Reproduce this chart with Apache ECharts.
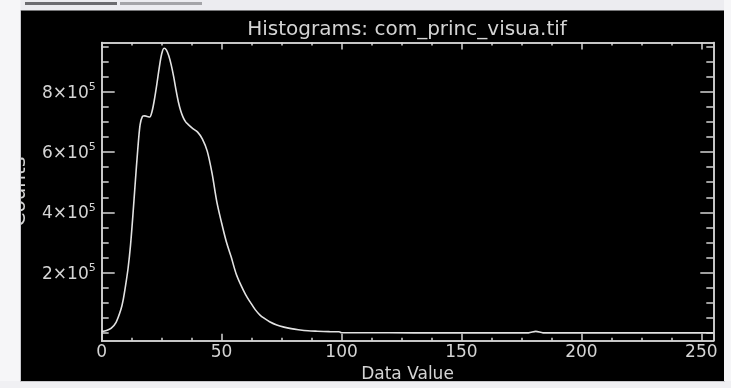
<!DOCTYPE html>
<html>
<head>
<meta charset="utf-8">
<script src="https://cdn.jsdelivr.net/npm/echarts@6/dist/echarts.min.js"></script>
<style>
  html, body { margin: 0; padding: 0; background: #f2f2f5; }
  #chart { width: 731px; height: 388px; }
</style>
</head>
<body>
<div id="chart"></div>
<script>
// histogram: data value (x) and count (y)
const dataValues = [0, 2, 4, 6, 8, 9, 10, 11, 12, 13, 14, 15, 16, 17, 18, 19, 20, 21, 22, 23, 24, 25, 26, 27, 28, 29, 30,
  31, 32, 33, 34, 35, 36, 38, 40, 42, 44, 46, 48, 50, 52, 54, 56, 58, 60, 62, 64, 66, 68, 70, 73, 76, 79, 82, 86, 90,
  95, 99, 100, 120, 140, 160, 178, 181, 184, 200, 230, 255]
const counts = [5000, 9000, 17000, 36000, 78000, 112000, 160000, 215000, 290000, 390000, 500000, 605000, 690000, 718000,
  720000, 718000, 716000, 735000, 775000, 825000, 880000, 925000, 944000, 938000, 918000, 888000, 850000,
  805000, 765000, 735000, 714000, 700000, 692000, 678000, 666000, 643000, 603000, 530000, 435000, 365000, 302000,
  252000, 198000, 160000, 128000, 102000, 78000, 60000, 48000, 38000, 27000, 20000, 15000, 11500, 8000, 6500,
  5000, 4500, 1500, 1200, 1000, 1000, 1000, 6000, 1000, 1000, 1000, 1000]

const xMajor = [0, 50, 100, 150, 200, 250]
const xMinor = [12.5, 25, 37.5, 62.5, 75, 87.5, 112.5, 125, 137.5, 162.5, 175, 187.5, 212.5, 225, 237.5]
const yMajor = [200000, 400000, 600000, 800000]
const yMinor = [0, 50000, 100000, 150000, 250000, 300000, 350000, 450000, 500000, 550000, 650000, 700000, 750000,
  850000, 900000, 950000]

const fg = '#d4d4d4'
const font = 'DejaVu Sans'

const xBase = {
  type: 'value', min: 0, max: 255, splitLine: { show: false },
  axisLine: { show: true, onZero: false, lineStyle: { color: fg, width: 1.5 } },
  axisLabel: { show: false }
}
const yBase = {
  type: 'value', min: -25000, max: 963000, splitLine: { show: false },
  axisLine: { show: true, onZero: false, lineStyle: { color: fg, width: 1.5 } },
  axisLabel: { show: false }
}
const tick = (vals, len) => ({ show: true, inside: true, length: len, customValues: vals, lineStyle: { color: fg, width: 1.5 } })

const chart = echarts.init(document.getElementById('chart'))
chart.setOption({
  backgroundColor: '#000',
  animation: false,
  title: {
    text: 'Histograms: com_princ_visua.tif',
    left: 407, top: 20, padding: 0, textAlign: 'center',
    textStyle: { color: fg, fontSize: 20, fontWeight: 'normal', fontFamily: font }
  },
  grid: { left: 101.7, right: 17.7, top: 42.5, bottom: 47.3, containLabel: false },
  xAxis: [
    Object.assign({}, xBase, {
      position: 'bottom', axisTick: tick(xMajor, 7),
      axisLabel: { show: true, customValues: xMajor, color: fg, fontSize: 17, fontFamily: font, margin: 3 },
      name: 'Data Value', nameLocation: 'middle', nameGap: 19,
      nameTextStyle: { color: fg, fontSize: 17, fontFamily: font, verticalAlign: 'top' }
    }),
    Object.assign({}, xBase, { position: 'bottom', axisTick: tick(xMinor, 3) }),
    Object.assign({}, xBase, { position: 'top', axisTick: tick(xMajor, 7) }),
    Object.assign({}, xBase, { position: 'top', axisTick: tick(xMinor, 3) })
  ],
  yAxis: [
    Object.assign({}, yBase, {
      position: 'left', axisTick: tick(yMajor, 13),
      axisLabel: {
        show: true, customValues: yMajor, margin: 6,
        formatter: v => '{b|' + (v / 100000) + '×10}{s|5}',
        rich: {
          b: { color: fg, fontSize: 17, fontFamily: font, lineHeight: 20, verticalAlign: 'bottom' },
          s: { color: fg, fontSize: 11, fontFamily: font, lineHeight: 20, verticalAlign: 'top' }
        }
      },
      name: 'Counts', nameLocation: 'middle', nameGap: 72, nameRotate: 90,
      nameTextStyle: { color: fg, fontSize: 20, fontFamily: font }
    }),
    Object.assign({}, yBase, { position: 'left', axisTick: tick(yMinor, 7) }),
    Object.assign({}, yBase, { position: 'right', axisTick: tick(yMajor, 13) }),
    Object.assign({}, yBase, { position: 'right', axisTick: tick(yMinor, 7) })
  ],
  series: [{
    type: 'line',
    data: dataValues.map((x, i) => [x, counts[i]]),
    showSymbol: false,
    smooth: 0.3,
    lineStyle: { color: '#e2e2e2', width: 1.6 },
    z: 5
  }],
  graphic: [
    // light window frame around the black plot panel
    { type: 'rect', z: 100, shape: { x: 0, y: 0, width: 731, height: 10.5 }, style: { fill: '#ececf0' } },
    { type: 'rect', z: 100, shape: { x: 0, y: 0, width: 20.5, height: 388 }, style: { fill: '#f6f6f8' } },
    { type: 'rect', z: 100, shape: { x: 724, y: 0, width: 7, height: 388 }, style: { fill: '#f6f6f8' } },
    { type: 'rect', z: 100, shape: { x: 0, y: 381, width: 731, height: 7 }, style: { fill: '#f0f0f3' } },
    { type: 'rect', z: 101, shape: { x: 20, y: 10, width: 1, height: 372 }, style: { fill: '#c8c8cc' } },
    { type: 'rect', z: 101, shape: { x: 20, y: 381, width: 705, height: 1 }, style: { fill: '#c8c8cc' } },
    { type: 'rect', z: 101, shape: { x: 25, y: 2, width: 92, height: 3 }, style: { fill: '#6c6c70' } },
    { type: 'rect', z: 101, shape: { x: 120, y: 2, width: 82, height: 3 }, style: { fill: '#a4a4a8' } }
  ]
})
</script>
</body>
</html>
